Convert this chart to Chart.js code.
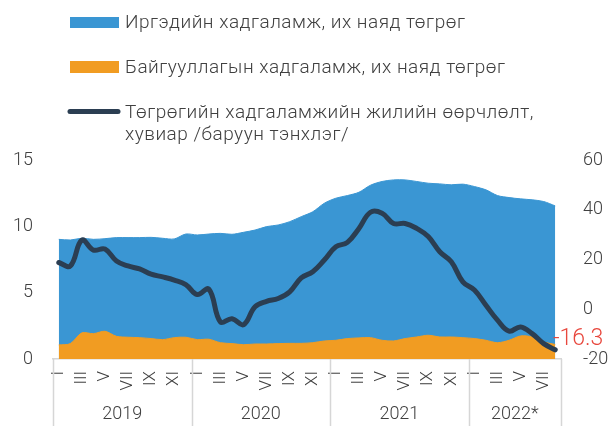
<!DOCTYPE html>
<html>
<head>
<meta charset="utf-8">
<script src="https://cdn.jsdelivr.net/npm/chart.js@4/dist/chart.umd.min.js"></script>
<style>
  body { margin: 0; background: #fff; }
  #wrap { width: 611px; height: 426px; position: relative; }
</style>
</head>
<body>
<div id="wrap"><canvas id="chart"></canvas></div>
<script>
// monthly, Jan 2019 - Aug 2022
const years = ['2019', '2020', '2021', '2022*'];
const yearMonths = [12, 12, 12, 8];
const romans = ['I', 'II', 'III', 'IV', 'V', 'VI', 'VII', 'VIII', 'IX', 'X', 'XI', 'XII'];

// household deposits, trn MNT
const household = [9.02, 8.97, 9.10, 9.02, 9.07, 9.15, 9.15, 9.15, 9.17, 9.10, 9.05, 9.42,
    9.35, 9.42, 9.47, 9.40, 9.55, 9.72, 9.98, 10.10, 10.35, 10.73, 11.10, 11.74,
    12.12, 12.32, 12.57, 13.10, 13.38, 13.50, 13.50, 13.38, 13.25, 13.20, 13.13, 13.18,
    13.00, 12.75, 12.32, 12.17, 12.07, 12.00, 11.87, 11.54];

// corporate deposits, trn MNT
const corporate = [1.06, 1.16, 1.97, 1.91, 2.09, 1.71, 1.64, 1.61, 1.54, 1.46, 1.61, 1.64,
    1.46, 1.49, 1.23, 1.16, 1.08, 1.13, 1.13, 1.16, 1.18, 1.18, 1.23, 1.36,
    1.41, 1.54, 1.59, 1.61, 1.41, 1.36, 1.54, 1.66, 1.79, 1.66, 1.66, 1.61,
    1.54, 1.41, 1.23, 1.41, 1.74, 1.66, 1.28, 1.10];

// MNT deposits annual growth, % (right axis)
const growth = [18.8, 17.4, 27.8, 23.8, 24.2, 19.4, 17.4, 16.2, 14.1, 13.0, 11.7, 9.9,
    5.9, 8.1, -5.1, -3.8, -6.2, 1.0, 3.2, 4.3, 7.0, 12.6, 15.1, 19.8,
    25.1, 26.9, 32.5, 39.0, 38.6, 34.5, 34.5, 32.5, 29.2, 23.1, 19.1, 11.0,
    7.7, 1.6, -4.4, -8.8, -7.1, -9.8, -13.8, -16.3];

const labels = [];
yearMonths.forEach(n => { for (let m = 0; m < n; m++) labels.push(romans[m]); });

const BLUE = '#3a96d3';
const ORANGE = '#f19c22';
const NAVY = '#2b3e52';
const TXT = '#404040';
const FONT = 'Roboto, "Liberation Sans", sans-serif';

// legend, year labels, end value label
const decor = {
    id: 'decor',
    afterDraw(chart) {
        const { ctx, chartArea, scales } = chart;
        const x = scales.x;
        ctx.save();

        // legend
        ctx.textBaseline = 'alphabetic';
        ctx.textAlign = 'left';
        ctx.fillStyle = BLUE;
        ctx.fillRect(70, 17, 49, 11);
        ctx.fillStyle = ORANGE;
        ctx.fillRect(70, 61, 49, 12);
        ctx.strokeStyle = NAVY;
        ctx.lineWidth = 5;
        ctx.lineCap = 'round';
        ctx.beginPath(); ctx.moveTo(70, 111.5); ctx.lineTo(118, 111.5); ctx.stroke();
        ctx.font = '300 19px ' + FONT;
        ctx.letterSpacing = '0.5px';
        ctx.fillStyle = TXT;
        ctx.fillText(chart.data.datasets[1].label, 125, 28);
        ctx.fillText(chart.data.datasets[2].label, 125, 73);
        ctx.fillText('Төгрөгийн хадгаламжийн жилийн өөрчлөлт,', 125, 118);
        ctx.fillText('хувиар /баруун тэнхлэг/', 125, 140);
        ctx.letterSpacing = '0px';

        // year separators and labels
        ctx.strokeStyle = '#d6d6d6';
        ctx.lineWidth = 1.5;
        ctx.lineCap = 'butt';
        const step = x.getPixelForValue(1) - x.getPixelForValue(0);
        let idx = 0;
        ctx.font = '300 18px ' + FONT;
        ctx.textAlign = 'center';
        ctx.textBaseline = 'middle';
        const edges = [];
        years.forEach((y, k) => {
            const left = x.getPixelForValue(idx) - step / 2;
            const right = x.getPixelForValue(idx + yearMonths[k] - 1) + step / 2;
            edges.push(left);
            if (k === years.length - 1) edges.push(right);
            ctx.fillText(y, (left + right) / 2, 414);
            idx += yearMonths[k];
        });
        edges.forEach(e => {
            ctx.beginPath(); ctx.moveTo(Math.round(e) + 0.5, chartArea.bottom); ctx.lineTo(Math.round(e) + 0.5, 426); ctx.stroke();
        });

        // last value label
        const last = growth[growth.length - 1];
        ctx.font = '300 23px ' + FONT;
        ctx.fillStyle = '#e8473d';
        ctx.textAlign = 'left';
        ctx.fillText(String(last), 553, scales.y1.getPixelForValue(last) - 11);
        ctx.restore();
    }
};

new Chart(document.getElementById('chart'), {
    type: 'line',
    data: {
        labels,
        datasets: [
            { label: 'Төгрөгийн хадгаламжийн жилийн өөрчлөлт, хувиар /баруун тэнхлэг/', data: growth, yAxisID: 'y1', borderColor: NAVY, borderWidth: 5, pointRadius: 0, tension: 0.4, fill: false, order: 0, borderCapStyle: 'round' },
            { label: 'Иргэдийн хадгаламж, их наяд төгрөг', data: household, yAxisID: 'y', borderColor: BLUE, backgroundColor: BLUE, borderWidth: 1, pointRadius: 0, tension: 0.3, fill: 'origin', order: 2 },
            { label: 'Байгууллагын хадгаламж, их наяд төгрөг', data: corporate, yAxisID: 'y', borderColor: ORANGE, backgroundColor: ORANGE, borderWidth: 1, pointRadius: 0, tension: 0.3, fill: 'origin', order: 1 }
        ]
    },
    options: {
        responsive: true,
        maintainAspectRatio: false,
        animation: false,
        layout: { padding: { top: 160, left: 0, right: 0, bottom: 0 } },
        plugins: { legend: { display: false }, tooltip: { enabled: false } },
        scales: {
            x: {
                offset: true,
                grid: { display: false, drawTicks: false, offset: true },
                border: { display: true, color: '#d6d6d6', width: 1.5 },
                ticks: {
                    autoSkip: false, minRotation: 90, maxRotation: 90, padding: 12,
                    color: TXT, font: { family: FONT, size: 17, weight: 300 },
                    callback: (v, i) => (i % 2 === 0 ? labels[i] : '')
                },
                afterFit: s => { s.paddingLeft = 0; s.paddingRight = 0; s.height = 67; }
            },
            y: {
                position: 'left', min: 0, max: 15,
                grid: { display: false, drawTicks: false },
                border: { display: false },
                ticks: { stepSize: 5, padding: 20, color: TXT, font: { family: FONT, size: 18, weight: 300 } },
                afterFit: s => { s.width = 53; }
            },
            y1: {
                position: 'right', min: -20, max: 60,
                grid: { display: false, drawTicks: false },
                border: { display: false },
                ticks: { stepSize: 20, padding: 22, color: TXT, font: { family: FONT, size: 18, weight: 300 } },
                afterFit: s => { s.width = 50; }
            }
        }
    },
    plugins: [decor]
});
</script>
</body>
</html>
